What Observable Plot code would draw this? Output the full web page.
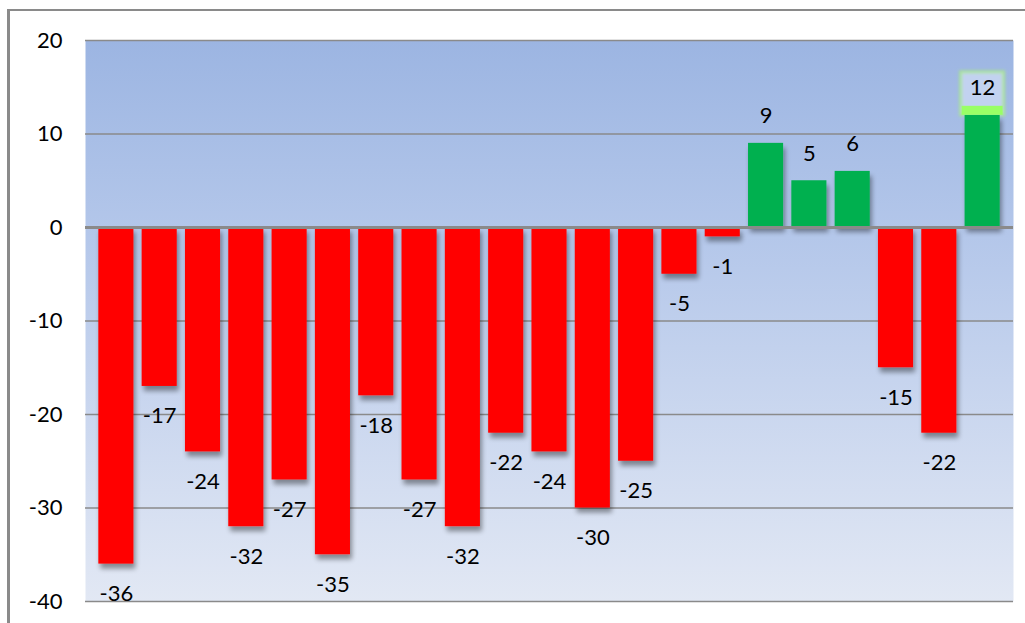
<!DOCTYPE html>
<html>
<head>
<meta charset="utf-8">
<script src="https://cdn.jsdelivr.net/npm/d3@7"></script>
<script src="https://cdn.jsdelivr.net/npm/@observablehq/plot@0.6"></script>
<style>
  html, body { margin: 0; padding: 0; background: #fff; }
  #wrap { position: relative; width: 1025px; height: 623px; overflow: hidden; }
  #border { position: absolute; left: 7px; top: 9px; right: -10px; bottom: -10px;
            border-left: 3px solid #8a8a8a; border-top: 2px solid #8a8a8a; pointer-events: none; }
</style>
</head>
<body>
<div id="wrap"><div id="border"></div></div>
<script>
// Data
const categories = d3.range(1, 22).map(String);
const values = [-36, -17, -24, -32, -27, -35, -18, -27, -32, -22, -24, -30, -25, -5, -1, 9, 5, 6, -15, -22, 12];
const yTicks = [-40, -30, -20, -10, 0, 10, 20];

const data = categories.map((c, i) => ({cat: c, v: values[i]}));
const highlight = [data[data.length - 1]];

const chart = Plot.plot({
  width: 1025,
  height: 623,
  marginLeft: 85,
  marginRight: 12,
  marginTop: 40,
  marginBottom: 22,
  style: {fontFamily: "Lato, 'Open Sans', sans-serif", fontSize: "22px", color: "#000", background: "transparent", overflow: "visible"},
  x: {domain: categories, paddingInner: 0.19, paddingOuter: 0.1, insetLeft: 9, insetRight: 9, round: false, axis: null},
  y: {domain: [-40, 20], ticks: yTicks, tickSize: 0, tickPadding: 23, label: null, tickFormat: d => String(d)},
  marks: [
    Plot.frame({fill: "url(#bgGrad)", stroke: "none"}),
    Plot.ruleY(yTicks.filter(t => t !== 0), {stroke: "#8a8a8a", strokeWidth: 1.5}),
    Plot.barY(highlight, {x: "cat", y1: "v", y2: "v", insetTop: -43, insetLeft: -4, insetRight: -4, fill: "#c2d2f0", stroke: "#a8f07a", strokeWidth: 3, strokeOpacity: 0.7}),
    Plot.barY(data, {x: "cat", y: "v", fill: d => d.v < 0 ? "#ff0000" : "#00b050"}),
    Plot.barY(highlight, {x: "cat", y1: "v", y2: "v", insetTop: -9, insetLeft: -3, insetRight: -3, fill: "#99ff66"}),
    Plot.ruleY([0], {stroke: "#8a8a8a", strokeWidth: 3}),
    Plot.text(data.filter(d => d.v < 0), {x: "cat", y: "v", text: d => String(d.v), dy: 30, fill: "#000"}),
    Plot.text(data.filter(d => d.v >= 0), {x: "cat", y: "v", text: d => String(d.v), dy: -27, fill: "#000"})
  ]
});

// gradient + shadow definitions
const svg = d3.select(chart);
const defs = svg.insert("defs", ":first-child");
const g = defs.append("linearGradient").attr("id", "bgGrad").attr("x1", 0).attr("y1", 0).attr("x2", 0).attr("y2", 1);
g.append("stop").attr("offset", "0%").attr("stop-color", "#9cb5e2");
g.append("stop").attr("offset", "35%").attr("stop-color", "#b4c7ea");
g.append("stop").attr("offset", "100%").attr("stop-color", "#e2e8f4");
const f = defs.append("filter").attr("id", "barShadow").attr("filterUnits", "userSpaceOnUse")
  .attr("x", 0).attr("y", 0).attr("width", 1025).attr("height", 623);
f.append("feGaussianBlur").attr("in", "SourceAlpha").attr("stdDeviation", 2.5).attr("result", "blur");
f.append("feOffset").attr("in", "blur").attr("dx", 2).attr("dy", 5).attr("result", "off");
f.append("feComponentTransfer").attr("in", "off").attr("result", "shade")
  .append("feFuncA").attr("type", "linear").attr("slope", 0.4);
const m = f.append("feMerge");
m.append("feMergeNode").attr("in", "shade");
m.append("feMergeNode").attr("in", "SourceGraphic");
const gl = defs.append("filter").attr("id", "glow").attr("filterUnits", "userSpaceOnUse")
  .attr("x", 0).attr("y", 0).attr("width", 1025).attr("height", 623);
gl.append("feGaussianBlur").attr("stdDeviation", 1.5);

const bars = chart.querySelectorAll('g[aria-label="bar"]');
if (bars[1]) bars[1].setAttribute("filter", "url(#barShadow)");
if (bars[0]) bars[0].setAttribute("filter", "url(#glow)");

document.getElementById("wrap").insertBefore(chart, document.getElementById("border"));
</script>
</body>
</html>
